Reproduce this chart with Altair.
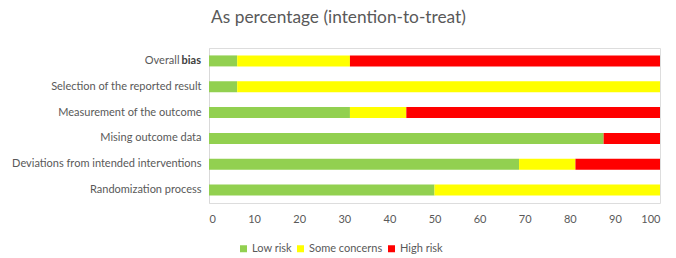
import altair as alt
import pandas as pd

categories = [
    "Overall bias",
    "Selection of the reported result",
    "Measurement of the outcome",
    "Mising outcome data",
    "Deviations from intended interventions",
    "Randomization process",
]
low_risk = [6.25, 6.25, 31.25, 87.5, 68.75, 50.0]
some_concerns = [25.0, 93.75, 12.5, 0.0, 12.5, 50.0]
high_risk = [68.75, 0.0, 56.25, 12.5, 18.75, 0.0]
risk_levels = ["Low risk", "Some concerns", "High risk"]
risk_colors = ["#92D050", "#FFFF00", "#FF0000"]
x_ticks = [0, 10, 20, 30, 40, 50, 60, 70, 80, 90, 100]
title_text = "As percentage (intention-to-treat)"

rows = []
for i, c in enumerate(categories):
    for j, (lvl, vals) in enumerate(zip(risk_levels, [low_risk, some_concerns, high_risk])):
        rows.append({"domain": c, "risk": lvl, "order": j, "pct": vals[i]})
df = pd.DataFrame(rows)

first_words = categories[0].split(" ")
bold_df = pd.DataFrame({"domain": [categories[0]], "word": [first_words[-1]]})

FONT = "Lato"
GRAY = "#595959"

y_enc = alt.Y(
    "domain:N",
    sort=categories,
    title=None,
    scale=alt.Scale(paddingInner=0, paddingOuter=0),
    axis=alt.Axis(
        labelExpr=f"datum.value == '{categories[0]}' ? '{first_words[0]}' : datum.value",
        labelPadding={"condition": {"test": f"datum.value == '{categories[0]}'", "value": 30}, "value": 8},
        labelLimit=400,
        ticks=False,
        grid=False,
        domainColor="#d9d9d9",
        labelFont=FONT,
        labelFontSize=11,
        labelColor=GRAY,
    ),
)

bars = alt.Chart(df).mark_bar(size=11).encode(
    y=y_enc,
    x=alt.X(
        "pct:Q",
        stack="zero",
        title=None,
        scale=alt.Scale(domain=[0, 100], nice=False),
        axis=alt.Axis(
            values=x_ticks,
            domain=False,
            ticks=False,
            grid=False,
            labelPadding=10,
            labelFont=FONT,
            labelFontSize=11,
            labelColor=GRAY,
        ),
    ),
    color=alt.Color(
        "risk:N",
        scale=alt.Scale(domain=risk_levels, range=risk_colors),
        legend=alt.Legend(
            orient="none",
            legendX=29,
            legendY=195,
            direction="horizontal",
            title=None,
            symbolType="square",
            symbolSize=49,
            symbolStrokeWidth=0,
            labelFont=FONT,
            labelFontSize=11,
            labelColor=GRAY,
            columnPadding=3,
            labelOffset=3,
        ),
    ),
    order=alt.Order("order:Q"),
)

bold_text = alt.Chart(bold_df).mark_text(
    align="right", baseline="middle", font=FONT, fontSize=11, fontWeight="bold", color="#404040"
).encode(
    y=alt.Y("domain:N", sort=categories),
    x=alt.value(-8),
    text="word:N",
)

chart = (
    alt.layer(bars, bold_text)
    .properties(
        width=451,
        height=155,
        title=alt.TitleParams(
            title_text,
            font=FONT,
            fontSize=17.3,
            fontWeight="normal",
            color=GRAY,
            anchor="middle",
            dx=-96,
            offset=22,
        ),
        autosize=alt.AutoSizeParams(type="none"),
        padding={"left": 209, "top": 48, "right": 16, "bottom": 55},
    )
    .configure_view(stroke=None)
    .configure(background="white")
)

chart.save("out.html", embed_options={"renderer": "svg", "actions": False})
